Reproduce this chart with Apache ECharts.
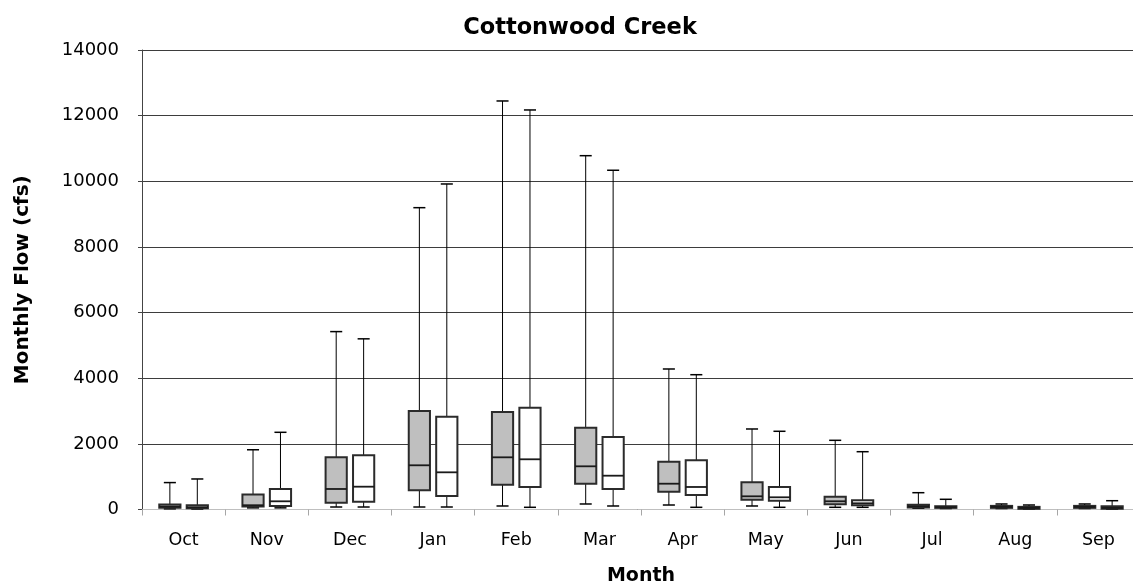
<!DOCTYPE html>
<html>
<head>
<meta charset="utf-8">
<script src="https://cdn.jsdelivr.net/npm/echarts@6/dist/echarts.min.js"></script>
<style>
html,body{margin:0;padding:0;background:#fff;}
#chart{width:1133px;height:584px;}
</style>
</head>
<body>
<div id="chart"></div>
<script>
// ---- data (cfs) ----
const months = ['Oct','Nov','Dec','Jan','Feb','Mar','Apr','May','Jun','Jul','Aug','Sep'];
const yTicks = [0,2000,4000,6000,8000,10000,12000,14000];

// gray boxes (first of each pair)
const grayMin = [20, 50, 76, 76, 107, 168, 137, 107, 67, 40, 30, 30];
const grayQ1  = [50, 95, 207, 585, 756, 786, 542, 299, 158, 60, 50, 50];
const grayMed = [90, 130, 625, 1347, 1590, 1316, 786, 402, 250, 100, 80, 80];
const grayQ3  = [150, 460, 1590, 3001, 2971, 2493, 1456, 829, 390, 146, 110, 110];
const grayMax = [820, 1820, 5420, 9196, 12447, 10780, 4281, 2453, 2108, 512, 168, 168];

// white boxes (second of each pair)
const whiteMin = [15, 50, 76, 76, 67, 107, 67, 67, 67, 30, 10, 10];
const whiteQ1  = [40, 107, 238, 411, 686, 625, 442, 268, 128, 50, 20, 20];
const whiteMed = [70, 250, 695, 1133, 1530, 1030, 686, 372, 189, 70, 50, 50];
const whiteQ3  = [130, 625, 1651, 2828, 3102, 2209, 1499, 686, 280, 100, 80, 100];
const whiteMax = [930, 2352, 5200, 9918, 12173, 10336, 4107, 2383, 1761, 311, 137, 268];

function rows(mn, q1, md, q3, mx) {
  return months.map((m, k) => [k, mn[k], q1[k], md[k], q3[k], mx[k]]);
}

function makeRender(offsetFrac, fill) {
  return function (params, api) {
    const k = api.value(0);
    const bw = api.size([1, 0])[0];
    const off = offsetFrac * bw;
    const boxW = 0.255 * bw;
    const capW = 0.145 * bw;
    const pMin = api.coord([k, api.value(1)]);
    const pQ1 = api.coord([k, api.value(2)]);
    const pMed = api.coord([k, api.value(3)]);
    const pQ3 = api.coord([k, api.value(4)]);
    const pMax = api.coord([k, api.value(5)]);
    const cx = pMin[0] + off;
    const lineStyle = { stroke: '#000', lineWidth: 1 };
    return {
      type: 'group',
      children: [
        { type: 'line', shape: { x1: cx, y1: pMax[1], x2: cx, y2: pQ3[1] }, style: lineStyle },
        { type: 'line', shape: { x1: cx - capW / 2, y1: pMax[1], x2: cx + capW / 2, y2: pMax[1] }, style: { stroke: '#000', lineWidth: 1.5 } },
        { type: 'line', shape: { x1: cx, y1: pQ1[1], x2: cx, y2: pMin[1] }, style: lineStyle },
        { type: 'line', shape: { x1: cx - capW / 2, y1: pMin[1], x2: cx + capW / 2, y2: pMin[1] }, style: { stroke: '#000', lineWidth: 1.5 } },
        { type: 'rect', shape: { x: cx - boxW / 2, y: pQ3[1], width: boxW, height: pQ1[1] - pQ3[1] },
          style: { fill: fill, stroke: '#2b2b2b', lineWidth: 2 } },
        { type: 'line', shape: { x1: cx - boxW / 2, y1: pMed[1], x2: cx + boxW / 2, y2: pMed[1] }, style: { stroke: '#1a1a1a', lineWidth: 1.8 } }
      ]
    };
  };
}

const chart = echarts.init(document.getElementById('chart'), null, { renderer: 'canvas' });
chart.setOption({
  animation: false,
  backgroundColor: '#fff',
  title: {
    text: 'Cottonwood Creek',
    left: 575, top: 12, textAlign: 'center',
    textStyle: { fontFamily: 'DejaVu Sans', fontWeight: 'bold', fontSize: 22.5, color: '#000' }
  },
  grid: { left: 142, right: -7, top: 50, bottom: 74.5, containLabel: false, outerBoundsMode: 'none' },
  xAxis: {
    type: 'category',
    data: months,
    name: 'Month',
    nameLocation: 'middle',
    nameGap: 57,
    nameTextStyle: { fontFamily: 'DejaVu Sans', fontWeight: 'bold', fontSize: 19, color: '#000' },
    axisLine: { show: true, lineStyle: { color: '#bfbfbf', width: 1 } },
    axisTick: { show: true, length: 6, inside: false, alignWithLabel: false, lineStyle: { color: '#a6a6a6' } },
    axisLabel: { margin: 22, fontFamily: 'DejaVu Sans', fontSize: 17.5, color: '#000' },
    splitLine: { show: false }
  },
  yAxis: {
    type: 'value',
    min: 0, max: 14000, interval: 2000,
    name: 'Monthly Flow (cfs)',
    nameLocation: 'middle',
    nameRotate: 90,
    nameGap: 109,
    nameTextStyle: { fontFamily: 'DejaVu Sans', fontWeight: 'bold', fontSize: 20, color: '#000' },
    axisLine: { show: true, lineStyle: { color: '#444', width: 1 } },
    axisTick: { show: true, length: 4, lineStyle: { color: '#444' } },
    axisLabel: { margin: 23, fontFamily: 'DejaVu Sans', fontSize: 18, color: '#000',
      formatter: v => (yTicks.indexOf(v) >= 0 ? String(v) : '') },
    splitLine: { show: true, lineStyle: { color: '#3d3d3d', width: 1 } }
  },
  series: [
    { name: 'Gray', type: 'custom', renderItem: makeRender(-0.165, '#bfbfbf'),
      encode: { x: 0, y: [1, 2, 3, 4, 5] }, data: rows(grayMin, grayQ1, grayMed, grayQ3, grayMax), clip: false },
    { name: 'White', type: 'custom', renderItem: makeRender(0.165, '#ffffff'),
      encode: { x: 0, y: [1, 2, 3, 4, 5] }, data: rows(whiteMin, whiteQ1, whiteMed, whiteQ3, whiteMax), clip: false }
  ]
});
</script>
</body>
</html>
